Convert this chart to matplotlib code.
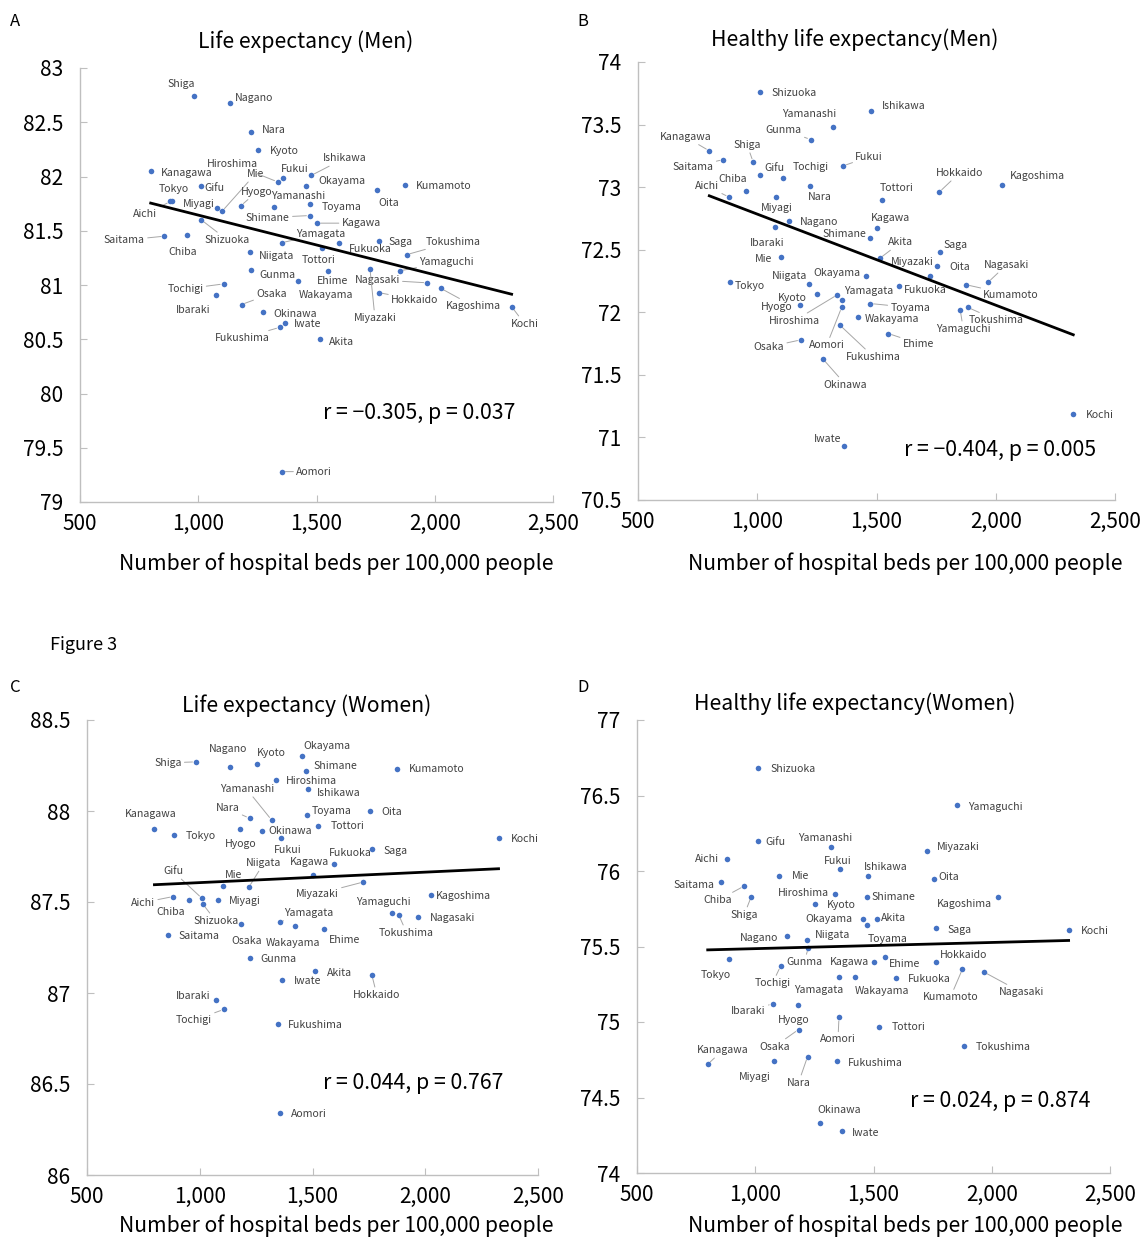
import numpy as np
import matplotlib.pyplot as plt
from matplotlib.ticker import FuncFormatter, MultipleLocator

plt.rcParams['font.family'] = ['Noto Sans CJK JP', 'DejaVu Sans']

W, H = 1145, 1238

# 都道府県とデータ
prefs = ['Hokkaido', 'Aomori', 'Iwate', 'Miyagi', 'Akita', 'Yamagata', 'Fukushima',
         'Ibaraki', 'Tochigi', 'Gunma', 'Saitama', 'Chiba', 'Tokyo', 'Kanagawa',
         'Niigata', 'Toyama', 'Ishikawa', 'Fukui', 'Yamanashi', 'Nagano', 'Gifu',
         'Shizuoka', 'Aichi', 'Mie', 'Shiga', 'Kyoto', 'Osaka', 'Hyogo', 'Nara',
         'Wakayama', 'Tottori', 'Shimane', 'Okayama', 'Hiroshima', 'Yamaguchi',
         'Tokushima', 'Kagawa', 'Ehime', 'Kochi', 'Fukuoka', 'Saga', 'Nagasaki',
         'Kumamoto', 'Oita', 'Miyazaki', 'Kagoshima', 'Okinawa']
beds = [1763, 1354, 1365, 1079, 1513, 1354, 1345, 1073, 1107, 1224, 857, 953, 887, 799,
        1217, 1474, 1478, 1360, 1319, 1135, 1010, 1013, 882, 1101, 983, 1252, 1183, 1180,
        1221, 1422, 1525, 1472, 1454, 1336, 1851, 1882, 1503, 1550, 2325, 1595, 1765,
        1968, 1876, 1755, 1726, 2025, 1274]
le_men = [80.93, 79.28, 80.65, 81.71, 80.50, 81.39, 80.61, 80.91, 81.01, 81.14, 81.45,
          81.46, 81.77, 82.05, 81.30, 81.75, 82.01, 81.99, 81.72, 82.68, 81.91, 81.60,
          81.77, 81.68, 82.74, 82.24, 80.82, 81.73, 82.41, 81.04, 81.34, 81.64, 81.91,
          81.95, 81.13, 81.28, 81.57, 81.13, 80.80, 81.39, 81.41, 81.02, 81.92, 81.88,
          81.15, 80.97, 80.75]
hale_men = [72.96, 72.04, 70.93, 72.92, 72.43, 72.10, 71.90, 72.68, 73.07, 73.38, 73.22,
            72.97, 72.24, 73.29, 72.23, 72.07, 73.61, 73.17, 73.48, 72.73, 73.10, 73.76,
            72.92, 72.44, 73.20, 72.15, 71.78, 72.06, 73.01, 71.96, 72.90, 72.59, 72.29,
            72.14, 72.02, 72.04, 72.67, 71.83, 71.19, 72.21, 72.48, 72.24, 72.22, 72.37,
            72.29, 73.02, 71.63]
le_women = [87.10, 86.34, 87.07, 87.51, 87.12, 87.39, 86.83, 86.96, 86.91, 87.19, 87.32,
            87.51, 87.87, 87.90, 87.58, 87.98, 88.12, 87.85, 87.95, 88.24, 87.52, 87.49,
            87.53, 87.59, 88.27, 88.26, 87.38, 87.90, 87.96, 87.37, 87.92, 88.22, 88.30,
            88.17, 87.44, 87.43, 87.65, 87.35, 87.85, 87.71, 87.79, 87.42, 88.23, 88.00,
            87.61, 87.54, 87.89]
hale_women = [75.40, 75.03, 74.28, 74.74, 75.68, 75.30, 74.74, 75.12, 75.37, 75.49, 75.93,
              75.90, 75.42, 74.72, 75.54, 75.64, 75.97, 76.01, 76.16, 75.57, 76.20, 76.68,
              76.08, 75.97, 75.83, 75.78, 74.95, 75.11, 74.77, 75.30, 74.97, 75.83, 75.68,
              75.85, 76.44, 74.84, 75.40, 75.43, 75.61, 75.29, 75.62, 75.33, 75.35, 75.95,
              76.13, 75.83, 74.33]

# ラベル位置（点からのずれ, px, 下向き正）
offA = {'Shiga': (-13, -12), 'Nagano': (24, -5), 'Nara': (23, -2), 'Kyoto': (26, 1),
        'Hiroshima': (-45, -18), 'Mie': (33, -37), 'Fukui': (11, -9), 'Ishikawa': (33, -17),
        'Okayama': (36, -5), 'Kanagawa': (36, 2), 'Tokyo': (2, -12), 'Gifu': (14, 2),
        'Hyogo': (16, -14), 'Yamanashi': (24, -11), 'Toyama': (31, 3), 'Miyagi': (-18, -4),
        'Aichi': (-25, 13), 'Shimane': (-42, 2), 'Shizuoka': (26, 20), 'Kagawa': (44, 0),
        'Saitama': (-40, 4), 'Chiba': (-4, 17), 'Yamagata': (39, -9), 'Niigata': (27, 4),
        'Fukuoka': (31, 6), 'Tottori': (-4, 12), 'Ehime': (4, 10), 'Gunma': (26, 5),
        'Wakayama': (28, 14), 'Tochigi': (-38, 5), 'Ibaraki': (-22, 15), 'Osaka': (30, -11),
        'Okinawa': (32, 2), 'Iwate': (23, 1), 'Fukushima': (-38, 11), 'Akita': (22, 3),
        'Aomori': (32, 0), 'Oita': (12, 13), 'Kumamoto': (38, 1), 'Saga': (21, 1),
        'Tokushima': (46, -13), 'Yamaguchi': (47, -9), 'Nagasaki': (-50, -3),
        'Miyazaki': (5, 49), 'Hokkaido': (36, 7), 'Kagoshima': (33, 18), 'Kochi': (13, 17)}
leadA = {'Hiroshima', 'Mie', 'Ishikawa', 'Hyogo', 'Aichi', 'Shimane', 'Shizuoka', 'Kagawa',
         'Saitama', 'Yamagata', 'Tochigi', 'Osaka', 'Fukushima', 'Aomori', 'Tokushima',
         'Yamaguchi', 'Nagasaki', 'Miyazaki', 'Hokkaido', 'Kagoshima', 'Kochi'}

offB = {'Shizuoka': (34, 1), 'Yamanashi': (-24, -13), 'Gunma': (-27, -10), 'Kanagawa': (-24, -14),
        'Shiga': (-6, -17), 'Saitama': (-30, 7), 'Gifu': (15, -7), 'Tochigi': (28, -11),
        'Fukui': (26, -9), 'Chiba': (-13, -12), 'Aichi': (-22, -11), 'Nara': (10, 11),
        'Miyagi': (1, 11), 'Nagano': (30, 1), 'Shimane': (-25, -4), 'Ibaraki': (-8, 16),
        'Mie': (-18, 2), 'Niigata': (-19, -8), 'Okayama': (-29, -3), 'Tokyo': (19, 4),
        'Kyoto': (-25, 4), 'Yamagata': (27, -9), 'Hyogo': (-23, 2), 'Hiroshima': (-43, 26),
        'Wakayama': (34, 2), 'Toyama': (40, 4), 'Osaka': (-32, 7), 'Aomori': (-15, 38),
        'Fukushima': (34, 32), 'Okinawa': (23, 26), 'Ishikawa': (32, -5), 'Tottori': (14, -12),
        'Hokkaido': (20, -19), 'Kagoshima': (36, -9), 'Kagawa': (13, -10), 'Akita': (21, -16),
        'Saga': (16, -7), 'Miyazaki': (-18, -14), 'Oita': (22, 1), 'Nagasaki': (18, -17),
        'Kumamoto': (45, 10), 'Fukuoka': (26, 4), 'Yamaguchi': (3, 19), 'Tokushima': (29, 13),
        'Ehime': (30, 10), 'Kochi': (27, 1), 'Iwate': (-17, -7)}
leadB = {'Gunma', 'Kanagawa', 'Shiga', 'Saitama', 'Fukui', 'Aichi', 'Hiroshima', 'Toyama',
         'Aomori', 'Fukushima', 'Okinawa', 'Hokkaido', 'Akita', 'Nagasaki', 'Kumamoto',
         'Ehime', 'Osaka', 'Yamaguchi', 'Tokushima'}

offC = {'Shiga': (-28, 1), 'Nagano': (-2, -18), 'Kyoto': (15, -11), 'Okayama': (25, -10),
        'Shimane': (29, -5), 'Hiroshima': (36, 1), 'Ishikawa': (31, 4), 'Yamanashi': (-25, -31),
        'Nara': (-22, -10), 'Toyama': (25, -4), 'Tottori': (29, 0), 'Kanagawa': (-4, -15),
        'Tokyo': (27, 1), 'Hyogo': (0, 15), 'Okinawa': (29, 0), 'Fukui': (7, 12),
        'Niigata': (15, -24), 'Kagawa': (-4, -13), 'Fukuoka': (16, -11), 'Saga': (23, 2),
        'Mie': (11, -11), 'Gifu': (-29, -27), 'Aichi': (-30, 6), 'Chiba': (-18, 12),
        'Miyagi': (27, 1), 'Shizuoka': (13, 17), 'Osaka': (6, 17), 'Saitama': (31, 1),
        'Yamagata': (29, -9), 'Wakayama': (-2, 17), 'Ehime': (21, 11), 'Miyazaki': (-46, 12),
        'Gunma': (28, 1), 'Akita': (24, 2), 'Iwate': (26, 1), 'Ibaraki': (-23, -4),
        'Tochigi': (-30, 11), 'Fukushima': (38, 1), 'Aomori': (29, 1), 'Kumamoto': (39, 0),
        'Oita': (22, 1), 'Kochi': (26, 1), 'Kagoshima': (33, 1), 'Yamaguchi': (-8, -11),
        'Nagasaki': (34, 1), 'Tokushima': (8, 18), 'Hokkaido': (5, 20)}
leadC = {'Shiga', 'Yamanashi', 'Nara', 'Niigata', 'Gifu', 'Aichi', 'Shizuoka', 'Yamagata',
         'Miyazaki', 'Tochigi', 'Tokushima', 'Hokkaido'}

offD = {'Shizuoka': (35, 1), 'Gifu': (18, 1), 'Yamanashi': (-6, -9), 'Aichi': (-20, 0),
        'Fukui': (-3, -8), 'Ishikawa': (17, -9), 'Mie': (21, 0), 'Saitama': (-27, 3),
        'Chiba': (-26, 14), 'Shiga': (-7, 18), 'Hiroshima': (-31, -1), 'Kyoto': (26, 1),
        'Okayama': (-34, 0), 'Toyama': (20, 14), 'Akita': (17, -1), 'Shimane': (27, 0),
        'Nagano': (-28, 2), 'Niigata': (26, -5), 'Gunma': (-4, 14), 'Tokyo': (-13, 16),
        'Tochigi': (-8, 17), 'Kagawa': (-25, 0), 'Yamagata': (-20, 13), 'Wakayama': (27, 14),
        'Ibaraki': (-24, 7), 'Hyogo': (-4, 15), 'Aomori': (-1, 22), 'Osaka': (-24, 17),
        'Kanagawa': (15, -14), 'Miyagi': (-19, 16), 'Nara': (-9, 26), 'Fukushima': (38, 2),
        'Okinawa': (19, -13), 'Iwate': (24, 2), 'Yamaguchi': (39, 2), 'Miyazaki': (31, -4),
        'Oita': (15, -2), 'Kagoshima': (-33, 7), 'Saga': (23, 2), 'Kochi': (26, 1),
        'Hokkaido': (28, -7), 'Ehime': (19, 7), 'Fukuoka': (33, 1), 'Kumamoto': (-12, 28),
        'Nagasaki': (37, 20), 'Tottori': (29, 0), 'Tokushima': (39, 1)}
leadD = {'Chiba', 'Shiga', 'Tochigi', 'Ibaraki', 'Osaka', 'Kanagawa', 'Nara', 'Kumamoto',
         'Nagasaki', 'Aomori', 'Gunma'}

panels = [
    dict(y=le_men, rect=(80, 68, 553, 502), ylim=(79, 83), title='Life expectancy (Men)',
         tpos=(306, 42), r='r = \u22120.305, p = 0.037', rpos=(419, 413), off=offA, lead=leadA,
         letter='A', lpos=(15, 22), xlab=(336, 564)),
    dict(y=hale_men, rect=(638, 62, 1115, 500), ylim=(70.5, 74), title='Healthy life expectancy(Men)',
         tpos=(855, 40), r='r = \u22120.404, p = 0.005', rpos=(1000, 450), off=offB, lead=leadB,
         letter='B', lpos=(583, 22), xlab=(905, 564)),
    dict(y=le_women, rect=(87, 720, 538, 1175), ylim=(86, 88.5), title='Life expectancy (Women)',
         tpos=(307, 706), r='r = 0.044, p = 0.767', rpos=(413, 1083), off=offC, lead=leadC,
         letter='C', lpos=(15, 688), xlab=(336, 1226)),
    dict(y=hale_women, rect=(637, 720, 1110, 1173), ylim=(74, 77), title='Healthy life expectancy(Women)',
         tpos=(855, 704), r='r = 0.024, p = 0.874', rpos=(1000, 1101), off=offD, lead=leadD,
         letter='D', lpos=(583, 688), xlab=(905, 1226)),
]

fig = plt.figure(figsize=(W / 100, H / 100), dpi=100)
x = np.array(beds, dtype=float)

for p in panels:
    l, t, r, b = p['rect']
    ax = fig.add_axes([l / W, 1 - b / H, (r - l) / W, (b - t) / H])
    y = np.array(p['y'])
    ax.set_xlim(500, 2500)
    ax.set_ylim(*p['ylim'])
    ax.xaxis.set_major_locator(MultipleLocator(500))
    ax.yaxis.set_major_locator(MultipleLocator(0.5))
    ax.xaxis.set_major_formatter(FuncFormatter(lambda v, _: f'{v:,.0f}'))
    ax.yaxis.set_major_formatter(FuncFormatter(lambda v, _: f'{v:g}'))
    for s in ['top', 'right']:
        ax.spines[s].set_visible(False)
    for s in ['left', 'bottom']:
        ax.spines[s].set_color('#bfbfbf')
        ax.spines[s].set_linewidth(1)
    ax.tick_params(direction='in', length=5, color='#bfbfbf', labelsize=15, labelcolor='black')
    ax.tick_params(axis='x', pad=8)
    ax.tick_params(axis='y', pad=12)

    ax.scatter(x, y, s=16, color='#4472C4', zorder=3, linewidths=0)
    k, c = np.polyfit(x, y, 1)
    xs = np.array([x.min(), x.max()])
    ax.plot(xs, k * xs + c, color='black', lw=2, zorder=4)

    for i, name in enumerate(prefs):
        dx, dy = p['off'][name]
        ap = None
        if name in p['lead']:
            ap = dict(arrowstyle='-', color='#a6a6a6', lw=0.7, shrinkA=0, shrinkB=2.5)
        ax.annotate(name, (x[i], y[i]), xytext=(dx, -dy), textcoords='offset pixels',
                    ha='center', va='center', fontsize=7.6, color='#404040',
                    arrowprops=ap, zorder=2, annotation_clip=False)

    fig.text(p['xlab'][0] / W, 1 - p['xlab'][1] / H, 'Number of hospital beds per 100,000 people',
             ha='center', va='center', fontsize=15.2)
    fig.text(p['tpos'][0] / W, 1 - p['tpos'][1] / H, p['title'], ha='center', va='center',
             fontsize=15.3)
    fig.text(p['rpos'][0] / W, 1 - p['rpos'][1] / H, p['r'], ha='center', va='center',
             fontsize=15.3)
    fig.text(p['lpos'][0] / W, 1 - p['lpos'][1] / H, p['letter'], ha='center', va='center',
             fontsize=12)

fig.text(50 / W, 1 - 645 / H, 'Figure 3', ha='left', va='center', fontsize=13)

fig.savefig('out.png', dpi=100, facecolor='white')
